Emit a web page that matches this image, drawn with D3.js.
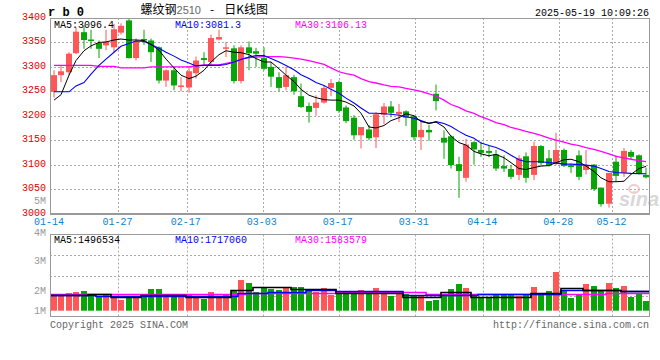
<!DOCTYPE html>
<html><head><meta charset="utf-8">
<script src="https://cdn.jsdelivr.net/npm/d3@7"></script>
<style>body{margin:0;background:#fff}svg{display:block}</style>
</head><body>
<svg id="c" width="660" height="360"></svg>
<script>
const dates = [
"01-14","01-15","01-16","01-17","01-20","01-21","01-22","01-23","01-24","01-27",
"02-05","02-06","02-07","02-10","02-11","02-12","02-13","02-14","02-17","02-18",
"02-19","02-20","02-21","02-24","02-25","02-26","02-27","02-28","03-03","03-04",
"03-05","03-06","03-07","03-10","03-11","03-12","03-13","03-14","03-17","03-18",
"03-19","03-20","03-21","03-24","03-25","03-26","03-27","03-28","03-31","04-01",
"04-02","04-03","04-07","04-08","04-09","04-10","04-11","04-14","04-15","04-16",
"04-17","04-18","04-21","04-22","04-23","04-24","04-25","04-28","04-29","04-30",
"05-06","05-07","05-08","05-09","05-12","05-13","05-14","05-15","05-16","05-19"];
const open  = [3249,3283,3289,3328,3371,3356,3349,3344,3340,3370,3395,3318,3357,3354,3340,3272,3293,3259,3258,3287,
3318,3310,3356,3337,3338,3271,3340,3332,3318,3300,3279,3259,3279,3240,3220,3216,3227,3257,3269,3217,
3196,3160,3172,3156,3202,3219,3203,3209,3199,3156,3171,3245,3155,3158,3101,3073,3146,3130,3128,3121,
3097,3091,3079,3117,3079,3138,3113,3102,3130,3099,3119,3089,3100,3053,3020,3106,3083,3126,3119,3079];
const high  = [3293,3303,3330,3381,3385,3376,3354,3376,3388,3389,3400,3358,3376,3358,3342,3295,3300,3279,3301,3321,
3330,3366,3376,3351,3344,3344,3352,3339,3340,3310,3289,3300,3284,3266,3227,3242,3262,3275,3272,3221,
3201,3177,3181,3207,3226,3230,3224,3211,3201,3188,3181,3264,3170,3160,3116,3153,3148,3147,3140,3130,
3119,3099,3119,3125,3147,3140,3130,3165,3133,3102,3129,3130,3101,3053,3083,3119,3134,3130,3121,3094];
const low   = [3237,3269,3283,3326,3337,3337,3318,3334,3330,3366,3317,3313,3345,3310,3266,3259,3252,3250,3247,3276,
3303,3303,3354,3320,3266,3266,3293,3300,3293,3259,3250,3252,3243,3216,3186,3200,3225,3240,3206,3185,
3151,3133,3150,3134,3183,3198,3187,3179,3150,3130,3149,3211,3112,3092,3032,3065,3100,3116,3115,3087,
3085,3070,3068,3063,3068,3098,3096,3099,3095,3083,3068,3080,3046,3014,3012,3065,3075,3111,3080,3072];
const close = [3283,3291,3327,3372,3355,3354,3337,3351,3377,3384,3318,3352,3355,3330,3272,3293,3262,3262,3291,3313,
3314,3359,3361,3340,3271,3340,3328,3327,3296,3280,3257,3283,3250,3218,3208,3227,3257,3267,3210,3189,
3160,3177,3154,3203,3219,3206,3208,3196,3156,3171,3166,3230,3145,3099,3087,3141,3131,3124,3124,3092,
3092,3075,3113,3073,3138,3103,3099,3130,3097,3095,3075,3098,3050,3019,3083,3077,3128,3116,3082,3074];
const ma5  = [3232,3243,3283,3313,3333,3343,3350,3351,3355,3357,3355,3355,3354,3346,3334,3316,3298,3283,3276,3281,
3293,3310,3325,3333,3330,3329,3325,3317,3310,3310,3296,3283,3270,3254,3242,3237,3233,3232,3232,3228,
3220,3205,3177,3175,3180,3190,3196,3204,3200,3188,3185,3187,3177,3158,3145,3140,3127,3122,3118,3121,
3114,3104,3092,3090,3094,3097,3098,3104,3110,3111,3106,3097,3086,3073,3065,3065,3066,3080,3092,3096.4];
const ma10 = [3249,3249,3249,3261,3268,3285,3303,3316,3330,3342,3348,3353,3352,3346,3338,3330,3322,3314,3308,3302,
3303,3303,3303,3305,3310,3315,3320,3323,3323,3317,3310,3303,3294,3284,3276,3268,3262,3254,3246,3236,
3226,3216,3205,3205,3204,3203,3201,3198,3195,3190,3184,3188,3184,3178,3168,3160,3154,3144,3139,3135,
3128,3119,3110,3106,3106,3106,3104,3103,3101,3101,3100,3099,3097,3092,3086,3084,3083,3082,3081.5,3081.3];
const ma30 = [3303,3303,3303,3303,3303,3303,3301,3301,3301,3298,3298,3298,3298,3300,3300,3300,3300,3300,3300,3302,
3304,3304,3304,3307,3310,3316,3319,3320,3321,3321,3321,3320,3318,3316,3313,3309,3305,3298,3290,3286,
3283,3276,3270,3267,3263,3260,3259,3256,3253,3250,3245,3240,3232,3223,3217,3210,3205,3198,3192,3186,
3182,3176,3172,3168,3164,3160,3154,3150,3146,3142,3139,3135,3131,3127,3122,3117,3114,3111,3108,3106.13];
const volume = [1616000,1616000,1695000,1734000,1773000,1616000,1577000,1616000,1577000,1420000,
1538000,1538000,1577000,1852000,1852000,1577000,1577000,1616000,1656000,1577000,
1459000,1734000,1577000,1656000,1813000,2205000,2088000,1734000,1891000,1852000,
1813000,1931000,1931000,1931000,1773000,1734000,1891000,1616000,1734000,1734000,
1734000,1813000,1695000,1891000,1773000,1577000,1656000,1656000,1616000,1577000,
1381000,1420000,1656000,1852000,2048000,1891000,1656000,1499000,1538000,1656000,
1656000,1616000,1577000,1656000,1931000,1695000,1773000,2519000,1773000,1499000,
1616000,2048000,1970000,1813000,2088000,1891000,1970000,1538000,1656000,1381000];
const volMa5 = [1620000,1620000,1620000,1620000,1620000,1640000,1640000,1640000,1530000,1530000,
1530000,1530000,1630000,1630000,1630000,1630000,1630000,1630000,1550000,1550000,
1550000,1550000,1550000,1550000,1810000,1810000,1810000,1920000,1920000,1920000,
1920000,1920000,1840000,1840000,1840000,1840000,1840000,1840000,1710000,1710000,
1710000,1710000,1710000,1710000,1710000,1710000,1710000,1530000,1530000,1530000,
1530000,1530000,1750000,1750000,1750000,1750000,1550000,1550000,1550000,1550000,
1550000,1550000,1550000,1550000,1710000,1710000,1710000,1710000,1880000,1880000,
1880000,1810000,1810000,1810000,1810000,1810000,1770000,1770000,1770000,1770000];
const volMa10 = [1620000,1620000,1620000,1620000,1620000,1620000,1580000,1580000,1580000,1580000,
1580000,1580000,1580000,1580000,1580000,1580000,1580000,1580000,1580000,1580000,
1580000,1580000,1580000,1580000,1580000,1680000,1680000,1680000,1680000,1750000,
1750000,1750000,1750000,1750000,1800000,1800000,1800000,1800000,1770000,1770000,
1770000,1770000,1770000,1770000,1770000,1770000,1770000,1600000,1600000,1600000,
1600000,1600000,1600000,1600000,1600000,1600000,1600000,1660000,1660000,1660000,
1660000,1660000,1660000,1660000,1660000,1660000,1660000,1660000,1810000,1810000,
1810000,1810000,1810000,1810000,1810000,1810000,1770000,1770000,1770000,1770000];
const volMa30 = [1640000,1640000,1640000,1640000,1640000,1640000,1640000,1640000,1640000,1640000,
1640000,1640000,1640000,1640000,1640000,1640000,1640000,1640000,1640000,1640000,
1640000,1640000,1640000,1640000,1640000,1640000,1680000,1680000,1680000,1680000,
1680000,1680000,1680000,1680000,1680000,1680000,1680000,1680000,1730000,1730000,
1730000,1730000,1730000,1730000,1730000,1730000,1730000,1730000,1730000,1730000,
1640000,1640000,1640000,1640000,1640000,1640000,1640000,1640000,1640000,1640000,
1640000,1640000,1640000,1640000,1640000,1640000,1640000,1640000,1640000,1640000,
1640000,1640000,1640000,1640000,1680000,1680000,1680000,1680000,1680000,1680000];
const priceTicks = [3000,3050,3100,3150,3200,3250,3300,3350,3400];
const dateTicks = ["01-14","01-27","02-17","03-03","03-17","03-31","04-14","04-28","05-12"];
const volTicks = [5000000,4000000,3000000,2000000,1000000];
const volTickLabels = ["5M","4M","3M","2M","1M"];
const maLabels = ["MA5:3096.4","MA10:3081.3","MA30:3106.13"];
const volMaLabels = ["MA5:1496534","MA10:1717060","MA30:1583579"];

const UP="#ff5757", DN="#07a507", MONO="'Liberation Mono', 'DejaVu Sans Mono', monospace";
const svg = d3.select("#c");
const L=50, R=650, T=18, B=213.5, VT=234.5, VB=316.5;
const n = dates.length;
const x = d3.scaleBand().domain(d3.range(n)).range([L,R]).paddingInner(0.2).paddingOuter(0.1);
const gx = d3.scaleLinear().domain([0, n]).range([L, L+608]);
const y = d3.scaleLinear().domain([3000,3400]).range([B,T]);
const yv = d3.scaleLinear().domain([1000000,4000000]).range([310.7,234.3]);
const yvLab = d3.scaleLinear().domain([5000000,2000000]).range([200.7,290.7]);
const bw = Math.round(x.bandwidth());
const cx = i => Math.round(x(i)) + bw/2;
const bx = i => i < n ? Math.round(x(i)) : R;

const defs = svg.append("defs");
defs.append("clipPath").attr("id","cp").append("rect").attr("x",L).attr("y",T).attr("width",R-L).attr("height",B-T);
defs.append("clipPath").attr("id","cv").append("rect").attr("x",L).attr("y",VT).attr("width",R-L).attr("height",VB-VT);

const grid = {stroke:"#aaa","stroke-dasharray":"2,2","stroke-width":1};
function applyAttrs(sel,o){for(const k in o) sel.attr(k,o[k]); return sel;}

applyAttrs(svg.append("g").selectAll("line").data(priceTicks.slice(1,-1)).join("line")
  .attr("x1",L).attr("x2",R).attr("y1",d=>Math.round(y(d))+0.5).attr("y2",d=>Math.round(y(d))+0.5), grid);
const dIdx = dateTicks.map(t => dates.indexOf(t));
applyAttrs(svg.append("g").selectAll("line").data(dIdx.slice(1)).join("line")
  .attr("x1",i=>Math.round(gx(i))+0.5).attr("x2",i=>Math.round(gx(i))+0.5).attr("y1",T).attr("y2",B), grid);
const vq = [1,2,3].map(k => VT + (VB-VT)*k/4);
applyAttrs(svg.append("g").selectAll("line").data(vq).join("line")
  .attr("x1",L).attr("x2",R).attr("y1",d=>Math.round(d)+0.5).attr("y2",d=>Math.round(d)+0.5), grid);
applyAttrs(svg.append("g").selectAll("line").data(dIdx.slice(1)).join("line")
  .attr("x1",i=>Math.round(gx(i))+0.5).attr("x2",i=>Math.round(gx(i))+0.5).attr("y1",VT).attr("y2",VB), grid);

// watermark
const wm = svg.append("g").attr("opacity",0.55);
wm.append("text").attr("x",619).attr("y",206).attr("font-family","'Liberation Sans', Arial, sans-serif")
  .attr("font-size",20).attr("font-weight","bold").attr("font-style","italic").attr("fill","#b9b9b9").text("sina");
wm.append("ellipse").attr("cx",634).attr("cy",189).attr("rx",5).attr("ry",4).attr("fill","none").attr("stroke","#e7a3a3").attr("stroke-width",2);

// candles
const data = dates.map((d,i)=>({i,o:open[i],h:high[i],l:low[i],c:close[i],v:volume[i]}));
const cg = svg.append("g").attr("clip-path","url(#cp)");
cg.selectAll("line.w").data(data).join("line").attr("class","w")
  .attr("x1",d=>cx(d.i)).attr("x2",d=>cx(d.i))
  .attr("y1",d=>y(d.h)).attr("y2",d=>y(d.l))
  .attr("stroke",d=>d.c>=d.o?UP:DN).attr("stroke-width",1);
cg.selectAll("rect").data(data).join("rect")
  .attr("x",d=>Math.round(x(d.i))).attr("width",bw)
  .attr("y",d=>y(Math.max(d.o,d.c)))
  .attr("height",d=>Math.max(1.5,Math.abs(y(d.o)-y(d.c))))
  .attr("fill",d=>d.c>=d.o?UP:DN);

const maLine = d3.line().x((v,i)=>cx(i)).y(v=>y(v));
[[ma30,"#ff00ff",1.3],[ma10,"#0000ff",1.1],[ma5,"#000",1]].forEach(([arr,col,w])=>{
  cg.append("path").attr("d",maLine(arr)).attr("fill","none").attr("stroke",col).attr("stroke-width",w);
});

// volume bars
const vg = svg.append("g").attr("clip-path","url(#cv)");
vg.selectAll("rect").data(data).join("rect")
  .attr("x",d=>Math.round(x(d.i))).attr("width",bw)
  .attr("y",d=>yv(d.v)).attr("height",d=>yv(1000000)-yv(d.v))
  .attr("fill",d=>d.c>=d.o?UP:DN);
const vLine = d3.line().x(d=>bx(d[0])).y(d=>Math.round(yv(d[1]))+0.5).curve(d3.curveStepAfter);
[[volMa30,"#ff00ff"],[volMa10,"#0000ff"],[volMa5,"#000"]].forEach(([arr,col])=>{
  const pts = arr.map((v,i)=>[i,v]); pts.push([n, arr[n-1]]);
  vg.append("path").attr("d",vLine(pts)).attr("fill","none").attr("stroke",col).attr("stroke-width",1.6);
});

// frames
svg.append("rect").attr("x",L+0.5).attr("y",T+0.5).attr("width",R-L-1).attr("height",B-T-0.5)
  .attr("fill","none").attr("stroke","#999").attr("stroke-width",1);
svg.append("line").attr("x1",L).attr("x2",R).attr("y1",B+0.5).attr("y2",B+0.5).attr("stroke","#999").attr("stroke-width",2);
svg.append("rect").attr("x",L+0.5).attr("y",VT).attr("width",R-L-1).attr("height",VB-VT)
  .attr("fill","none").attr("stroke","#999").attr("stroke-width",1);

const txt = (s,xx,yy,fill,anchor,size) => svg.append("text").attr("x",xx).attr("y",yy)
  .attr("font-family",MONO).attr("font-size",size||10).attr("fill",fill).attr("text-anchor",anchor||"start").text(s);
priceTicks.forEach(p => txt(String(p), 46, y(p)+2, "#e00000", "end"));
dateTicks.forEach((t,k) => txt(t, gx(dIdx[k]) - 1, 224.5, "#0a82d2", "middle"));
volTicks.forEach((v,k) => txt(volTickLabels[k], 46, Math.min(yvLab(v), 310.7)+(k===1?4.8:3.5), "#999", "end"));

const maCols = ["#000","#0000ff","#ff00ff"];
const legX = [54, 175, 295];
maLabels.forEach((s,k)=>txt(s, legX[k], 28, maCols[k]));
volMaLabels.forEach((s,k)=>txt(s, legX[k], 242.5, maCols[k]));

svg.append("text").attr("x",48).attr("y",16).attr("font-family",MONO).attr("font-weight","bold")
  .attr("font-size",12).attr("fill","#000").attr("xml:space","preserve").text("r b 0");
const tt = svg.append("text").attr("x",140.5).attr("y",14).attr("font-size",12).attr("fill","#000")
  .attr("font-family","'Noto Sans CJK SC', sans-serif");
tt.append("tspan").text("螺纹钢");
tt.append("tspan").attr("font-family","'Liberation Sans', Arial, sans-serif").attr("font-size",11).attr("fill","#666").text("2510");
tt.append("tspan").attr("dx",9).text("-");
tt.append("tspan").attr("dx",10).text("日K线图");
txt("2025-05-19 10:09:26", 649, 15.5, "#000", "end");
txt("Copyright 2025 SINA.COM", 50, 327.5, "#666", "start");
txt("http://finance.sina.com.cn", 649, 327.5, "#666", "end");
</script>
</body></html>
